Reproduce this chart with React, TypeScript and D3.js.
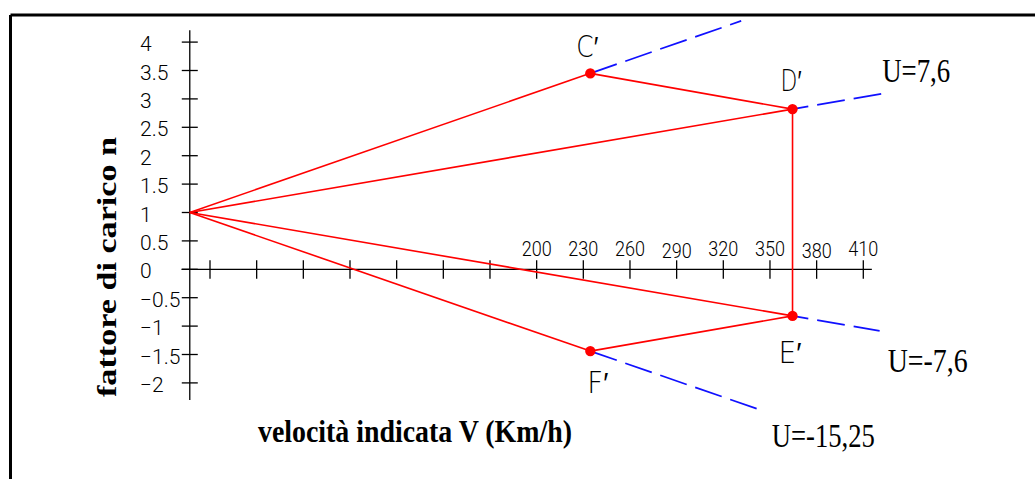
import React from "react";
import * as d3 from "d3";

// Gust envelope (V-n) diagram: load factor n against indicated airspeed V.

const speedTicks = [-10, 20, 50, 80, 110, 140, 170, 200, 230, 260, 290, 320, 350, 380, 410];
const speedTickLabels = ["", "", "", "", "", "", "", "200", "230", "260", "290", "320", "350", "380", "410"];

const loadTicks = [4, 3.5, 3, 2.5, 2, 1.5, 1, 0.5, 0, -0.5, -1, -1.5, -2];
const loadTickLabels = ["4", "3.5", "3", "2.5", "2", "1.5", "1", "0.5", "0", "−0.5", "−1", "−1.5", "−2"];

// Where the axes cross and how far they run (data units)
const speedAxisRange = [-28.3, 415.5];
const loadAxisRange = [-2.3, 4.21];
const axisCrossSpeed = -23;

// Gust lines all start at n = 1 on the load axis
const gustOriginLoad = 1;

// Envelope corners
const pointNames = ["C′", "D′", "E′", "F′"];
const pointSpeeds = [234.5, 364.5, 364.5, 234.5];
const pointLoads = [3.45, 2.82, -0.82, -1.44];

// Each gust line continues (dashed) past its corner up to this speed
const gustEndSpeeds = [331.5, 421.5, 420.5, 343.5];
const gustLabels = ["", "U=7,6", "U=-7,6", "U=-15,25"];

// Outline of the envelope between corners
const envelopeEdges: [number, number][] = [
  [0, 1],
  [1, 2],
  [2, 3],
];

const W = 1035;
const H = 479;

const x = d3.scaleLinear().domain([-10, 410]).range([210, 863.3]);
const y = d3.scaleLinear().domain([-2, 4]).range([382.9, 42.1]);

// label placement relative to the marks (pixels)
const pointLabelOffset: Record<string, [number, number]> = {
  "C′": [-14, -16],
  "D′": [-12, -18],
  "E′": [-14, 47],
  "F′": [-3, 42],
};
const pointLabelWidth: Record<string, number> = { "C′": 22, "D′": 21, "E′": 23, "F′": 21 };
const gustLabelOffset: Record<string, [number, number]> = {
  "U=7,6": [1, -12],
  "U=-7,6": [8, 41],
  "U=-15,25": [12, 37.5],
};
const gustLabelWidth: Record<string, number> = { "U=7,6": 68, "U=-7,6": 80, "U=-15,25": 103 };

const RED = "#ff0000";
const BLUE = "#1010ff";
const tickFont = "Roboto, 'DejaVu Sans', sans-serif";
const serif = "'Liberation Serif', 'Times New Roman', serif";

export default function App() {
  const x0 = x(axisCrossSpeed);
  const y0 = y(0);
  const ox = x(axisCrossSpeed);
  const oy = y(gustOriginLoad);

  const pts = pointNames.map((name, i) => ({
    name,
    px: x(pointSpeeds[i]),
    py: y(pointLoads[i]),
    v: pointSpeeds[i],
    n: pointLoads[i],
  }));

  const gusts = pts.map((p, i) => {
    const slope = (p.n - gustOriginLoad) / (p.v - axisCrossSpeed);
    const endV = gustEndSpeeds[i];
    const endN = gustOriginLoad + slope * (endV - axisCrossSpeed);
    return { from: p, ex: x(endV), ey: y(endN), label: gustLabels[i] };
  });

  const line = d3.line<[number, number]>();

  return (
    <svg
      width={W}
      height={H}
      style={{ position: "absolute", left: 0, top: 0, background: "#fff" }}
    >
      <rect x={0} y={0} width={W} height={H} fill="#fff" />

      {/* frame */}
      <line x1={10.5} y1={15} x2={W + 5} y2={15} stroke="#000" strokeWidth={3} />
      <line x1={10.5} y1={15} x2={10.5} y2={H + 5} stroke="#000" strokeWidth={3} />

      {/* load axis */}
      <line
        x1={x0}
        x2={x0}
        y1={y(loadAxisRange[1])}
        y2={y(loadAxisRange[0])}
        stroke="#000"
        strokeWidth={1.3}
      />
      {loadTicks.map((t, i) => (
        <g key={"ly" + i}>
          <line x1={x0 - 8} x2={x0 + 8} y1={y(t)} y2={y(t)} stroke="#000" strokeWidth={1.3} />
          <text
            x={140}
            y={y(t) + 9}
            fontFamily={tickFont}
            fontWeight={300}
            fontSize={21}
            fill="#000"
          >
            {loadTickLabels[i]}
          </text>
        </g>
      ))}

      {/* speed axis */}
      <line
        x1={x(speedAxisRange[0])}
        x2={x(speedAxisRange[1])}
        y1={y0}
        y2={y0}
        stroke="#000"
        strokeWidth={1.3}
      />
      {speedTicks.map((t, i) => (
        <g key={"sx" + i}>
          <line x1={x(t)} x2={x(t)} y1={y0 - 9} y2={y0 + 9.5} stroke="#000" strokeWidth={1.3} />
          {speedTickLabels[i] && (
            <text
              x={x(t)}
              y={speedTickLabels[i] === "290" || speedTickLabels[i] === "380" ? 258 : 256}
              textAnchor="middle"
              fontFamily={tickFont}
              fontWeight={300}
              fontSize={20}
              textLength={30}
              lengthAdjust="spacingAndGlyphs"
              fill="#000"
            >
              {speedTickLabels[i]}
            </text>
          )}
        </g>
      ))}

      {/* dashed continuation of the gust lines */}
      {gusts.map((g, i) => (
        <path
          key={"gd" + i}
          d={line([
            [g.from.px, g.from.py],
            [g.ex, g.ey],
          ])!}
          stroke={BLUE}
          strokeWidth={1.7}
          strokeDasharray="28 9"
          strokeDashoffset={i === 1 || i === 2 ? 12 : 0}
          fill="none"
        />
      ))}

      {/* gust lines from n = 1 to each corner */}
      {pts.map((p, i) => (
        <path
          key={"gl" + i}
          d={line([
            [ox, oy],
            [p.px, p.py],
          ])!}
          stroke={RED}
          strokeWidth={1.6}
          fill="none"
        />
      ))}

      {/* envelope outline */}
      {envelopeEdges.map(([a, b], i) => (
        <path
          key={"ee" + i}
          d={line([
            [pts[a].px, pts[a].py],
            [pts[b].px, pts[b].py],
          ])!}
          stroke={RED}
          strokeWidth={1.6}
          fill="none"
        />
      ))}

      {/* corners */}
      {pts.map((p, i) => (
        <circle key={"pc" + i} cx={p.px} cy={p.py} r={5.2} fill={RED} />
      ))}

      {pts.map((p, i) => {
        const [dx, dy] = pointLabelOffset[p.name];
        return (
          <text
            key={"pl" + i}
            x={p.px + dx}
            y={p.py + dy}
            fontFamily="'DejaVu Sans', sans-serif"
            fontWeight={200}
            fontSize={30}
            textLength={pointLabelWidth[p.name]}
            lengthAdjust="spacingAndGlyphs"
            fill="#000"
          >
            {p.name}
          </text>
        );
      })}

      {gusts
        .filter((g) => g.label)
        .map((g, i) => {
          const [dx, dy] = gustLabelOffset[g.label];
          return (
            <text
              key={"gt" + i}
              x={g.ex + dx}
              y={g.ey + dy}
              fontFamily={serif}
              fontSize={33}
              textLength={gustLabelWidth[g.label]}
              lengthAdjust="spacingAndGlyphs"
              fill="#000"
            >
              {g.label}
            </text>
          );
        })}

      {/* axis titles */}
      <text
        x={258}
        y={441.7}
        fontFamily={serif}
        fontWeight="bold"
        fontSize={32}
        textLength={314}
        lengthAdjust="spacingAndGlyphs"
        fill="#000"
      >
        velocità indicata V (Km/h)
      </text>
      <text
        transform="translate(116,267) rotate(-90)"
        textAnchor="middle"
        fontFamily={serif}
        fontWeight="bold"
        fontSize={28}
        textLength={260}
        lengthAdjust="spacingAndGlyphs"
        fill="#000"
      >
        fattore di carico n
      </text>
    </svg>
  );
}
